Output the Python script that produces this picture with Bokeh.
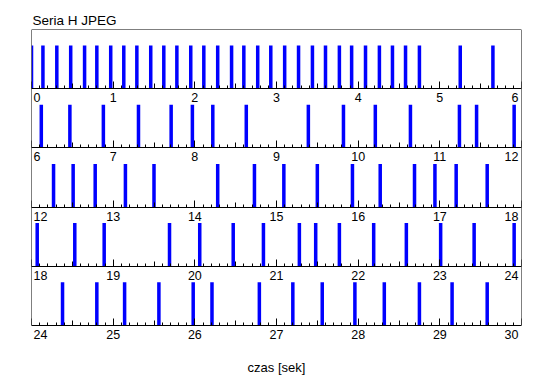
from bokeh.plotting import figure
from bokeh.models import LinearAxis, FixedTicker, Range1d, ColumnDataSource
from bokeh.embed import file_html
from bokeh.resources import INLINE
from bokeh.core.properties import value

# ---------------- data ----------------
title_text = "Seria H JPEG"
x_label = "czas [sek]"
row_starts = [0, 6, 12, 18, 24]
row_span = 6

events_00_06 = [0.00, 0.14, 0.31, 0.48, 0.65, 0.80, 0.97, 1.13, 1.29, 1.46, 1.62,
                1.78, 1.95, 2.11, 2.28, 2.45, 2.60, 2.77, 2.93, 3.10, 3.27, 3.44,
                3.60, 3.77, 3.92, 4.09, 4.26, 4.42, 4.58, 4.75, 5.25, 5.65]
events_06_12 = [6.12, 6.47, 6.88, 7.31, 7.71, 7.97, 8.22, 8.63, 9.39, 9.82,
                10.21, 10.64, 11.24, 11.45, 11.91]
events_12_18 = [12.27, 12.51, 12.78, 13.15, 13.50, 14.28, 14.73, 15.09, 15.50,
                15.93, 16.27, 16.69, 16.94, 17.20, 17.58]
events_18_24 = [18.07, 18.53, 18.89, 19.69, 20.06, 20.47, 20.84, 21.28, 21.48,
                21.77, 22.19, 22.59, 23.01, 23.42, 23.91]
events_24_30 = [24.38, 24.80, 25.14, 25.56, 25.98, 26.21, 26.79, 27.20, 27.56,
                27.96, 28.32, 28.75, 29.15, 29.58]
rows_events = [events_00_06, events_06_12, events_12_18, events_18_24, events_24_30]

# ---------------- layout constants ----------------
N_ROWS = len(row_starts)
ROW_PX = 59.2
LABEL_PX = 17.0
FRAME_H = round(N_ROWS * ROW_PX + LABEL_PX)
Y_MIN = -LABEL_PX / ROW_PX
BAR_FRAC = (ROW_PX - 16.0) / ROW_PX
LABEL_DROP = 9.0 / ROW_PX
BLUE = "#0000FF"
FONT = "Liberation Sans"

p = figure(frame_width=490, frame_height=FRAME_H,
           x_range=Range1d(0, row_span), y_range=Range1d(Y_MIN, N_ROWS),
           output_backend="svg", toolbar_location=None,
           x_axis_location=None, y_axis_location=None,
           min_border_left=31, min_border_right=12,
           min_border_top=29, min_border_bottom=34,
           title=title_text)
p.outline_line_color = None
p.grid.visible = False
p.background_fill_color = "white"
p.border_fill_color = "white"
p.title.text_font = FONT
p.title.text_font_size = "13.5px"
p.title.text_font_style = "normal"
p.title.text_color = "black"
p.title.align = "left"
p.title.offset = 1
p.title.standoff = 4

# ---------------- bars ----------------
xs, bottoms, tops = [], [], []
for r, (start, evs) in enumerate(zip(row_starts, rows_events)):
    base = N_ROWS - 1 - r
    for t in evs:
        xs.append(t - start)
        bottoms.append(base)
        tops.append(base + BAR_FRAC)
src = ColumnDataSource(dict(x=xs, bottom=bottoms, top=tops))
p.vbar(x="x", bottom="bottom", top="top", width=0.043, source=src,
       fill_color=BLUE, line_color=None)

# ---------------- ticks (one set of axes per row) ----------------
major = list(range(row_span + 1))
minor = [k / 10 for k in range(row_span * 10 + 1) if k % 5 != 0]
half = [k / 2 for k in range(row_span * 2 + 1) if k % 2 == 1]


def quiet(ax):
    ax.major_label_text_color = None
    ax.major_label_standoff = 0
    ax.major_tick_out = 0
    ax.minor_tick_out = 0


for r in range(N_ROWS):
    base = N_ROWS - 1 - r
    a = LinearAxis(ticker=FixedTicker(ticks=major, minor_ticks=minor), fixed_location=base)
    quiet(a)
    a.axis_line_color = "black"
    a.major_tick_in = 7
    a.minor_tick_in = 3
    a.major_tick_line_color = "black"
    a.minor_tick_line_color = "black"
    p.add_layout(a, "below")
    b = LinearAxis(ticker=FixedTicker(ticks=half, minor_ticks=[]), fixed_location=base)
    quiet(b)
    b.axis_line_color = None
    b.major_tick_in = 5
    b.major_tick_line_color = "black"
    b.minor_tick_line_color = None
    p.add_layout(b, "below")

# frame borders (top, left, right)
top_ax = LinearAxis(ticker=FixedTicker(ticks=[]), fixed_location=N_ROWS)
quiet(top_ax)
top_ax.major_tick_line_color = None
top_ax.minor_tick_line_color = None
p.add_layout(top_ax, "above")
for loc, side in ((0, "left"), (row_span, "right")):
    ax = LinearAxis(ticker=FixedTicker(ticks=[]), fixed_location=loc, bounds=(0, N_ROWS))
    quiet(ax)
    ax.major_tick_line_color = None
    ax.minor_tick_line_color = None
    p.add_layout(ax, side)

# x axis title
xl = LinearAxis(ticker=FixedTicker(ticks=[]), axis_label=x_label)
quiet(xl)
xl.axis_line_color = None
xl.major_tick_line_color = None
xl.minor_tick_line_color = None
xl.axis_label_standoff = 17
xl.axis_label_text_font = FONT
xl.axis_label_text_font_size = "13px"
xl.axis_label_text_font_style = "normal"
xl.axis_label_text_color = "black"
p.add_layout(xl, "below")

# ---------------- tick labels under each row ----------------
for r, start in enumerate(row_starts):
    base = N_ROWS - 1 - r
    y = base - LABEL_DROP
    groups = [([0], "left", 2), (list(range(1, row_span)), "center", 0), ([row_span], "right", -3)]
    for ks, align, dx in groups:
        p.text(x=ks, y=[y] * len(ks), text=[str(start + k) for k in ks],
               text_align=align, text_baseline="alphabetic", x_offset=dx,
               text_font=value(FONT), text_font_size=value("12.5px"),
               text_color="black")

open("out.html", "w").write(file_html(p, INLINE))
